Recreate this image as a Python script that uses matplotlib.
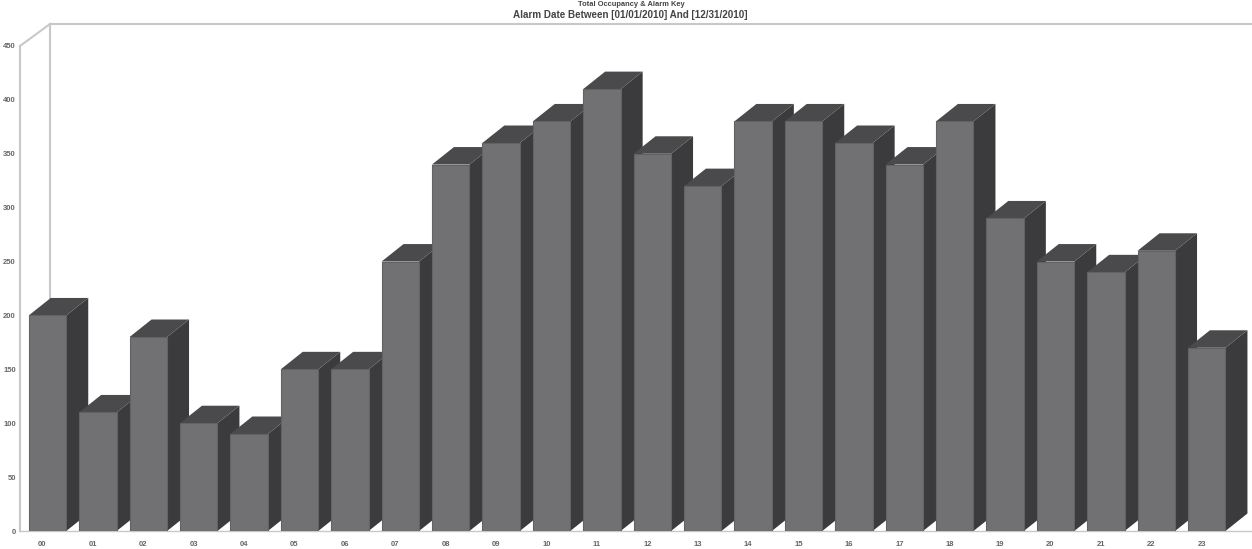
import numpy as np
import matplotlib.pyplot as plt
from matplotlib.transforms import ScaledTranslation

# --- Alarmas por hora del día ---
hours = ['00', '01', '02', '03', '04', '05', '06', '07', '08', '09', '10', '11',
         '12', '13', '14', '15', '16', '17', '18', '19', '20', '21', '22', '23']
alarms = [200, 110, 180, 100, 90, 150, 150, 250, 340, 360, 380, 410,
          350, 320, 380, 380, 360, 340, 380, 290, 250, 240, 260, 170]
y_ticks = [0, 50, 100, 150, 200, 250, 300, 350, 400, 450]

title_top = 'Total Occupancy & Alarm Key'
title_sub = 'Alarm Date Between [01/01/2010] And [12/31/2010]'

W, H = 1252, 549
plt.rcParams['font.family'] = ['Liberation Sans', 'DejaVu Sans']

fig = plt.figure(figsize=(W / 100, H / 100), dpi=100)
# eje en píxeles: y=0 en la fila 531, y=450 en la fila 46
ax = fig.add_axes([20 / W, 1 - 531 / H, (1252 - 20) / W, (531 - 46) / H])

px_x = 50.4  # píxeles por categoría
px_y = (531 - 46) / 450
x_min = -(47.5 - 20) / px_x
x_max = (1252 - 47.5) / px_x
x_back = -(47.5 - 50) / px_x
ax.set_xlim(x_min, x_max)
ax.set_ylim(0, 450)

# profundidad 3D en unidades de datos
dx = 22 / px_x
dy = 17.5 / px_y
w = 37.5 / px_x
x = np.arange(len(hours))

# pared del fondo y marco
frame = '#c8c8ca'
y_top = 450 + 22 / px_y
ax.plot([x_min, x_back], [450, y_top], color=frame, lw=1.5, clip_on=False)
ax.plot([x_back, x_back], [dy, y_top], color=frame, lw=1.5, clip_on=False)
ax.plot([x_back, x_max], [y_top, y_top], color=frame, lw=1.5, clip_on=False)

# caras laterales y superiores, la cara frontal va encima
for xi, val in zip(x, alarms):
    left, right = xi - w / 2, xi + w / 2
    ax.fill([right, right + dx, right + dx, right], [0, dy, val + dy, val],
            color='#3b3b3d', lw=0, zorder=2)
    ax.fill([left, left + dx, right + dx, right], [val, val + dy, val + dy, val],
            color='#4a4a4c', lw=0, zorder=2)
ax.bar(x, alarms, width=w, color='#717174', edgecolor='#626264', linewidth=0.8, zorder=3)

for s in ['top', 'right']:
    ax.spines[s].set_visible(False)
ax.spines['left'].set_color(frame)
ax.spines['left'].set_linewidth(1.5)
ax.spines['bottom'].set_color(frame)
ax.spines['bottom'].set_linewidth(1.0)

ax.set_xticks(x, hours)
ax.set_yticks(y_ticks)
ax.tick_params(axis='x', length=0, labelsize=5.5, labelcolor='#666666', pad=7)
ax.tick_params(axis='y', length=0, labelsize=5.5, labelcolor='#666666', pad=3)
for lab in ax.get_xticklabels():
    lab.set_fontweight('bold')
    lab.set_transform(lab.get_transform() + ScaledTranslation(-5 / 100, 0, fig.dpi_scale_trans))
for lab in ax.get_yticklabels():
    lab.set_fontweight('bold')

fig.text(631 / W, 1 - 4 / H, title_top, ha='center', va='center', fontsize=5.4,
         fontweight='bold', color='#444444')
fig.text(630 / W, 1 - 15 / H, title_sub, ha='center', va='center', fontsize=7.1,
         fontweight='bold', color='#444444')

plt.savefig('out.png', dpi=100)
